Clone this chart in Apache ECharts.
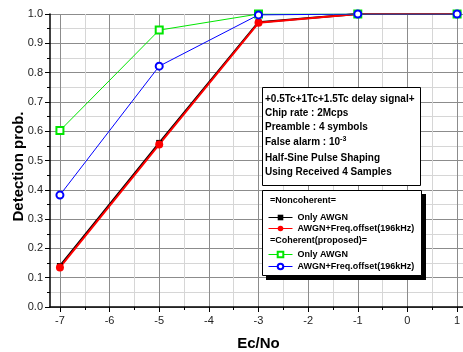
<!DOCTYPE html>
<html>
<head>
<meta charset="utf-8">
<script src="https://cdn.jsdelivr.net/npm/echarts@6/dist/echarts.min.js"></script>
<style>
  html, body { margin: 0; padding: 0; background: #fff; }
  #chart { width: 463px; height: 352px; }
</style>
</head>
<body>
<div id="chart"></div>
<script>
// Ec/No values on x axis
const ecNo = [-7, -5, -3, -1, 1];
// detection probability per scheme
const nonAwgn = [0.14, 0.56, 0.972, 1.0, 1.0];
const nonFreq = [0.135, 0.555, 0.97, 1.0, 1.0];
const cohAwgn = [0.602, 0.945, 1.0, 1.0, 1.0];
const cohFreq = [0.382, 0.822, 0.997, 1.0, 1.0];
const xTicks = [-7, -6, -5, -4, -3, -2, -1, 0, 1];
const xMinorTicks = [-6.5, -5.5, -4.5, -3.5, -2.5, -1.5, -0.5, 0.5];
const seriesNames = ['Only AWGN', 'AWGN+Freq.offset(196kHz)', 'Only AWGN ', 'AWGN+Freq.offset(196kHz) '];
const infoLines = [
  '+0.5Tc+1Tc+1.5Tc delay signal+',
  'Chip rate : 2Mcps',
  'Preamble : 4 symbols',
  'False alarm : 10{sup|-3}',
  'Half-Sine Pulse Shaping',
  'Using Received 4 Samples'
];

const font = "'Liberation Sans', Arial, sans-serif";

function pairs(ys) {
  const out = [];
  for (let i = 0; i < ecNo.length; i++) {
    out.push([ecNo[i], ys[i]]);
  }
  return out;
}

const chart = echarts.init(document.getElementById('chart'));

const graphics = [
  // info box
  {
    type: 'rect', z: 3,
    shape: { x: 262.5, y: 87.5, width: 158, height: 98 },
    style: { fill: '#fff', stroke: '#000', lineWidth: 1 }
  },
  // legend box shadow + box
  {
    type: 'rect', z: 3,
    shape: { x: 266, y: 194, width: 160, height: 86 },
    style: { fill: '#000' }
  },
  {
    type: 'rect', z: 3,
    shape: { x: 262.5, y: 190.5, width: 159, height: 85 },
    style: { fill: '#fff', stroke: '#000', lineWidth: 1 }
  },
  {
    type: 'text', z: 5, left: 270, top: 196,
    style: { text: '=Noncoherent=', font: 'bold 9px ' + font, fill: '#000' }
  },
  {
    type: 'text', z: 5, left: 270, top: 236,
    style: { text: '=Coherent(proposed)=', font: 'bold 9px ' + font, fill: '#000' }
  }
];

infoLines.forEach(function (line, i) {
  graphics.push({
    type: 'text', z: 5, left: 265, top: [94, 108, 122, 136, 153, 167][i],
    style: {
      text: line,
      font: 'bold 10px ' + font,
      fill: '#000',
      rich: {
        sup: { font: 'bold 7px ' + font, fill: '#000', verticalAlign: 'top', padding: [0, 0, 6, 0] }
      }
    }
  });
});

const legendBase = {
  orient: 'vertical',
  itemWidth: 24, itemHeight: 7, z: 5,
  lineStyle: { width: 1 },
  textStyle: { fontSize: 9, fontWeight: 'bold', color: '#000' }
};

chart.setOption({
  animation: false,
  backgroundColor: '#fff',
  textStyle: { fontFamily: font },
  grid: { left: 50, right: -4, top: 14, bottom: 45, containLabel: false, outerBoundsMode: 'none' },
  legend: [
    Object.assign({}, legendBase, {
      left: 263, top: 208, itemGap: 2,
      data: [seriesNames[0], seriesNames[1]]
    }),
    Object.assign({}, legendBase, {
      left: 263, top: 245, itemGap: 3,
      data: [seriesNames[2], seriesNames[3]]
    })
  ],
  xAxis: [
    {
      type: 'value', min: -7.2, max: 1.2,
      name: 'Ec/No', nameLocation: 'middle', nameGap: 29,
      nameTextStyle: { fontSize: 15, fontWeight: 'bold', color: '#000' },
      axisLine: { onZero: false, lineStyle: { color: '#000', width: 1.5 } },
      axisTick: { customValues: xTicks, length: 5, lineStyle: { color: '#000' } },
      axisLabel: {
        customValues: xTicks, margin: 8, fontSize: 11, color: '#222'
      },
      splitLine: { show: true, lineStyle: { color: '#8c8c8c', width: 1 } }
    },
    {
      type: 'value', min: -7.2, max: 1.2, position: 'bottom',
      axisLine: { show: false, onZero: false },
      axisTick: { customValues: xMinorTicks, length: 3, lineStyle: { color: '#000' } },
      axisLabel: { show: false },
      splitLine: { show: true, lineStyle: { color: '#d6d6d6', width: 1 } }
    }
  ],
  yAxis: {
    type: 'value', min: 0, max: 1, interval: 0.1,
    name: 'Detection prob.', nameLocation: 'middle', nameGap: 24,
    nameMoveOverlap: false,
    nameTextStyle: { fontSize: 15, fontWeight: 'bold', color: '#000', padding: [0, 12, 0, 0] },
    axisLine: { show: true, onZero: false, lineStyle: { color: '#000', width: 1.5 } },
    axisTick: { show: true, length: 5, lineStyle: { color: '#000' } },
    minorTick: { show: true, splitNumber: 2, length: 3, lineStyle: { color: '#000' } },
    axisLabel: {
      fontSize: 11, color: '#222', margin: 7,
      formatter: function (v) { return v.toFixed(1); }
    },
    splitLine: { show: true, lineStyle: { color: '#8c8c8c', width: 1 } },
    minorSplitLine: { show: true, lineStyle: { color: '#d6d6d6', width: 1 } }
  },
  graphic: graphics,
  series: [
    {
      name: seriesNames[0], type: 'line', data: pairs(nonAwgn),
      symbol: 'rect', symbolSize: 6,
      lineStyle: { color: '#000', width: 2 },
      itemStyle: { color: '#000' }
    },
    {
      name: seriesNames[1], type: 'line', data: pairs(nonFreq),
      symbol: 'circle', symbolSize: 8,
      lineStyle: { color: '#ff0000', width: 2 },
      itemStyle: { color: '#ff0000' }
    },
    {
      name: seriesNames[2], type: 'line', data: pairs(cohAwgn),
      symbol: 'emptyRect', symbolSize: 7,
      lineStyle: { color: '#00e600', width: 1 },
      itemStyle: { color: '#00e600', borderWidth: 1 }
    },
    {
      name: seriesNames[3], type: 'line', data: pairs(cohFreq),
      symbol: 'emptyCircle', symbolSize: 7,
      lineStyle: { color: '#0000ff', width: 1 },
      itemStyle: { color: '#0000ff', borderWidth: 1 }
    }
  ]
});
</script>
</body>
</html>
